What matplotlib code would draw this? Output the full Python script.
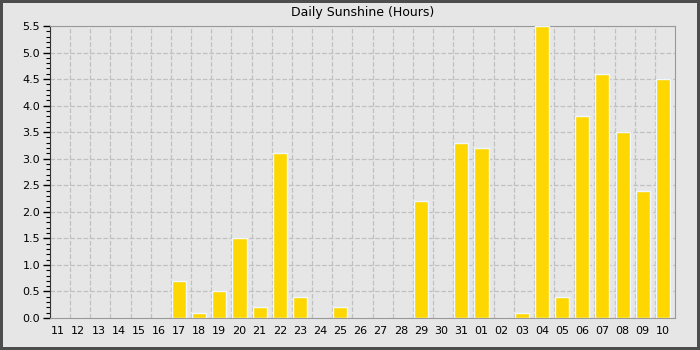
import numpy as np
import matplotlib
matplotlib.use('Agg')
import matplotlib.pyplot as plt

# Datos
days = ['11', '12', '13', '14', '15', '16', '17', '18', '19', '20', '21', '22', '23', '24', '25', '26',
        '27', '28', '29', '30', '31', '01', '02', '03', '04', '05', '06', '07', '08', '09', '10']
sunshine = [0, 0, 0, 0, 0, 0, 0.7, 0.1, 0.5, 1.5, 0.2, 3.1, 0.4, 0, 0.2, 0,
            0, 0, 2.2, 0, 3.3, 3.2, 0, 0.1, 5.5, 0.4, 3.8, 4.6, 3.5, 2.4, 4.5]

bg = '#e6e6e6'
fig = plt.figure(figsize=(7, 3.5), dpi=100, facecolor=bg)
fig.patch.set_edgecolor('#4d4d4d')
fig.patch.set_linewidth(4)

ax = fig.add_axes([50 / 700, 32 / 350, 625 / 700, 292 / 350], facecolor=bg)

x = np.arange(len(days))
ax.bar(x + 0.05, sunshine, width=0.7, align='edge', color='#ffd700',
       edgecolor='#f0f8ff', linewidth=1, zorder=3)

ax.set_xlim(0, len(days))
ax.set_ylim(0, 5.5)

# Rejilla vertical en los bordes de cada categoría
ax.set_xticks(x)
ax.set_xticklabels([])
ax.tick_params(axis='x', which='major', length=0)
ax.set_xticks(x + 0.4, minor=True)
ax.set_xticklabels(days, minor=True, fontsize=8)
ax.tick_params(axis='x', which='minor', length=0, pad=6)

ax.set_yticks(np.arange(0, 5.51, 0.5))
ax.set_yticklabels([f'{v:.1f}' for v in np.arange(0, 5.51, 0.5)], fontsize=8)
ax.set_yticks(np.arange(0, 5.51, 0.1), minor=True)
ax.tick_params(axis='y', which='major', length=5, width=1, pad=2)
ax.tick_params(axis='y', which='minor', length=3, width=0.8)

ax.grid(True, which='major', color='#c0c0c0', linestyle='--', linewidth=0.9, zorder=0)

for s in ax.spines.values():
    s.set_color('#999999')
ax.spines['left'].set_color('#333333')

ax.set_title('Daily Sunshine (Hours)', fontsize=9, pad=7)

fig.savefig('out.png', dpi=100, facecolor=bg, edgecolor='#4d4d4d')
